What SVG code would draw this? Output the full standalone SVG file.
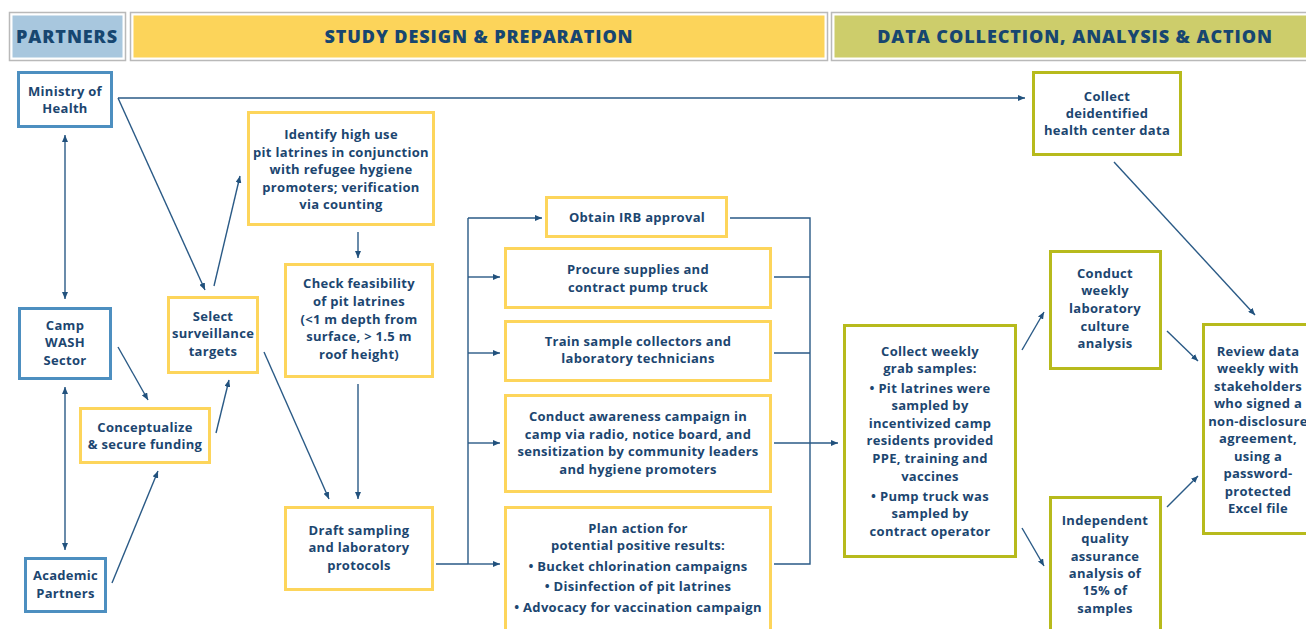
<svg xmlns="http://www.w3.org/2000/svg" width="1306" height="629" viewBox="0 0 1306 629">
<defs>
<marker id="ah" markerUnits="userSpaceOnUse" markerWidth="8" markerHeight="6" refX="7" refY="3" orient="auto-start-reverse">
<path d="M0,0 L7,3 L0,6 z" fill="#21517d"/>
</marker>
<style>
.hdr{stroke:#b9b9b9;stroke-width:1.5;fill:none}
.t{font-family:"Open Sans","Liberation Sans",sans-serif;font-weight:700;font-size:13px;fill:#1c4670;text-anchor:middle;letter-spacing:0.3px}
.h{font-family:"Open Sans","Liberation Sans",sans-serif;font-weight:800;font-size:18px;fill:#174670;text-anchor:middle;letter-spacing:0.9px}
.bl{fill:#fff;stroke:#4d8fc0;stroke-width:3}
.yl{fill:#fff;stroke:#fdd55b;stroke-width:3}
.ol{fill:#fff;stroke:#b7ba1c;stroke-width:3}
.c{fill:none;stroke:#2a5a86;stroke-width:1.4}
.a{marker-end:url(#ah)}
.d{marker-start:url(#ah);marker-end:url(#ah)}
</style>
</defs>
<rect width="1306" height="629" fill="#fff"/>
<g id="headers">
<rect class="hdr" x="9.5" y="12.5" width="116" height="48"/>
<rect x="12.5" y="15.5" width="110" height="42" fill="#a8c7de"/>
<text class="h" x="67" y="43">PARTNERS</text>
<rect class="hdr" x="130.5" y="12.5" width="697" height="48"/>
<rect x="133.5" y="15.5" width="691" height="42" fill="#fcd45a"/>
<text class="h" x="479" y="43">STUDY DESIGN &amp; PREPARATION</text>
<rect class="hdr" x="831.5" y="12.5" width="480" height="48"/>
<rect x="834.5" y="15.5" width="480" height="42" fill="#cdcd6b"/>
<text class="h" x="1075" y="43">DATA COLLECTION, ANALYSIS &amp; ACTION</text>
</g>
<g id="connectors">
<path class="c a" d="M118,98 L1025,98"/>
<path class="c a" d="M118,98 L205,290"/>
<path class="c d" d="M65,135 L65,299"/>
<path class="c d" d="M65,387 L65,550"/>
<path class="c a" d="M118,347 L148,400"/>
<path class="c a" d="M112,583 L158,471"/>
<path class="c a" d="M216,433 L229,380"/>
<path class="c a" d="M214,286 L240,176"/>
<path class="c a" d="M264,352 L329,499"/>
<path class="c a" d="M358,232 L358,258"/>
<path class="c a" d="M358,384 L358,499"/>
<path class="c" d="M436,564 L468,564 M468,218 L468,564"/>
<path class="c a" d="M468,218 L542,218"/>
<path class="c a" d="M468,277 L500,277"/>
<path class="c a" d="M468,353 L500,353"/>
<path class="c a" d="M468,443 L500,443"/>
<path class="c a" d="M468,564 L500,564"/>
<path class="c" d="M730,218 L810,218 L810,564 L774,564 M774,277 L810,277 M774,353 L810,353"/>
<path class="c a" d="M774,443 L838,443"/>
<path class="c a" d="M1022,350 L1044,312"/>
<path class="c a" d="M1022,528 L1044,566"/>
<path class="c a" d="M1167,331 L1198,361"/>
<path class="c a" d="M1167,507 L1198,476"/>
<path class="c a" d="M1114,162 L1255,315"/>
</g>
<g id="ministry">
<rect class="bl" x="18.5" y="72.5" width="93" height="54"/>
<text class="t" x="65" y="96">Ministry of</text>
<text class="t" x="65" y="113">Health</text>
</g>
<g id="camp">
<rect class="bl" x="19.5" y="308.5" width="91" height="70"/>
<text class="t" x="65" y="330">Camp</text>
<text class="t" x="65" y="347">WASH</text>
<text class="t" x="65" y="365">Sector</text>
</g>
<g id="academic">
<rect class="bl" x="25.5" y="558.5" width="80" height="53"/>
<text class="t" x="65.5" y="580">Academic</text>
<text class="t" x="65.5" y="598">Partners</text>
</g>
<g id="conceptualize">
<rect class="yl" x="80.5" y="408.5" width="129" height="54"/>
<text class="t" x="145" y="432">Conceptualize</text>
<text class="t" x="145" y="449">&amp; secure funding</text>
</g>
<g id="select">
<rect class="yl" x="168.5" y="297.5" width="89" height="75"/>
<text class="t" x="213" y="321">Select</text>
<text class="t" x="213" y="338">surveillance</text>
<text class="t" x="213" y="356">targets</text>
</g>
<g id="identify">
<rect class="yl" x="248.5" y="112.5" width="185" height="112"/>
<text class="t" x="341" y="139">Identify high use</text>
<text class="t" x="341" y="157">pit latrines in conjunction</text>
<text class="t" x="341" y="174">with refugee hygiene</text>
<text class="t" x="341" y="192">promoters; verification</text>
<text class="t" x="341" y="209">via counting</text>
</g>
<g id="check">
<rect class="yl" x="285.5" y="264.5" width="147" height="112"/>
<text class="t" x="359" y="288">Check feasibility</text>
<text class="t" x="359" y="306">of pit latrines</text>
<text class="t" x="359" y="324">(&lt;1 m depth from</text>
<text class="t" x="359" y="341">surface, &gt; 1.5 m</text>
<text class="t" x="359" y="359">roof height)</text>
</g>
<g id="draft">
<rect class="yl" x="285.5" y="507.5" width="147" height="82"/>
<text class="t" x="359" y="535">Draft sampling</text>
<text class="t" x="359" y="552">and laboratory</text>
<text class="t" x="359" y="570">protocols</text>
</g>
<g id="irb">
<rect class="yl" x="546.5" y="197.5" width="180" height="39"/>
<text class="t" x="637" y="222">Obtain IRB approval</text>
</g>
<g id="procure">
<rect class="yl" x="505.5" y="248.5" width="265" height="59"/>
<text class="t" x="638" y="274">Procure supplies and</text>
<text class="t" x="638" y="292">contract pump truck</text>
</g>
<g id="train">
<rect class="yl" x="505.5" y="321.5" width="265" height="59"/>
<text class="t" x="638" y="346">Train sample collectors and</text>
<text class="t" x="638" y="363">laboratory technicians</text>
</g>
<g id="awareness">
<rect class="yl" x="505.5" y="395.5" width="265" height="96"/>
<text class="t" x="638" y="421">Conduct awareness campaign in</text>
<text class="t" x="638" y="439">camp via radio, notice board, and</text>
<text class="t" x="638" y="456">sensitization by community leaders</text>
<text class="t" x="638" y="474">and hygiene promoters</text>
</g>
<g id="plan">
<rect class="yl" x="505.5" y="507.5" width="265" height="140"/>
<text class="t" x="638" y="533">Plan action for</text>
<text class="t" x="638" y="550">potential positive results:</text>
<text class="t" x="638" y="571">• Bucket chlorination campaigns</text>
<text class="t" x="638" y="591">• Disinfection of pit latrines</text>
<text class="t" x="638" y="612">• Advocacy for vaccination campaign</text>
</g>
<g id="deidentified">
<rect class="ol" x="1033.5" y="72.5" width="147" height="82"/>
<text class="t" x="1107" y="101">Collect</text>
<text class="t" x="1107" y="118">deidentified</text>
<text class="t" x="1107" y="135">health center data</text>
</g>
<g id="grab">
<rect class="ol" x="844.5" y="325.5" width="171" height="231"/>
<text class="t" x="930" y="356">Collect weekly</text>
<text class="t" x="930" y="373">grab samples:</text>
<text class="t" x="930" y="393">• Pit latrines were</text>
<text class="t" x="930" y="410">sampled by</text>
<text class="t" x="930" y="428">incentivized camp</text>
<text class="t" x="930" y="445">residents provided</text>
<text class="t" x="930" y="463">PPE, training and</text>
<text class="t" x="930" y="481">vaccines</text>
<text class="t" x="930" y="501">• Pump truck was</text>
<text class="t" x="930" y="518">sampled by</text>
<text class="t" x="930" y="536">contract operator</text>
</g>
<g id="lab">
<rect class="ol" x="1050.5" y="251.5" width="110" height="117"/>
<text class="t" x="1105" y="278">Conduct</text>
<text class="t" x="1105" y="295">weekly</text>
<text class="t" x="1105" y="313">laboratory</text>
<text class="t" x="1105" y="331">culture</text>
<text class="t" x="1105" y="348">analysis</text>
</g>
<g id="independent">
<rect class="ol" x="1050.5" y="497.5" width="110" height="150"/>
<text class="t" x="1105" y="525">Independent</text>
<text class="t" x="1105" y="543">quality</text>
<text class="t" x="1105" y="561">assurance</text>
<text class="t" x="1105" y="578">analysis of</text>
<text class="t" x="1105" y="595">15% of</text>
<text class="t" x="1105" y="613">samples</text>
</g>
<g id="review">
<rect class="ol" x="1203.5" y="324.5" width="120" height="209"/>
<text class="t" x="1258" y="356">Review data</text>
<text class="t" x="1258" y="373">weekly with</text>
<text class="t" x="1258" y="391">stakeholders</text>
<text class="t" x="1258" y="408">who signed a</text>
<text class="t" x="1258" y="426">non-disclosure</text>
<text class="t" x="1258" y="443">agreement,</text>
<text class="t" x="1258" y="461">using a</text>
<text class="t" x="1258" y="478">password-</text>
<text class="t" x="1258" y="496">protected</text>
<text class="t" x="1258" y="513">Excel file</text>
</g>
</svg>
